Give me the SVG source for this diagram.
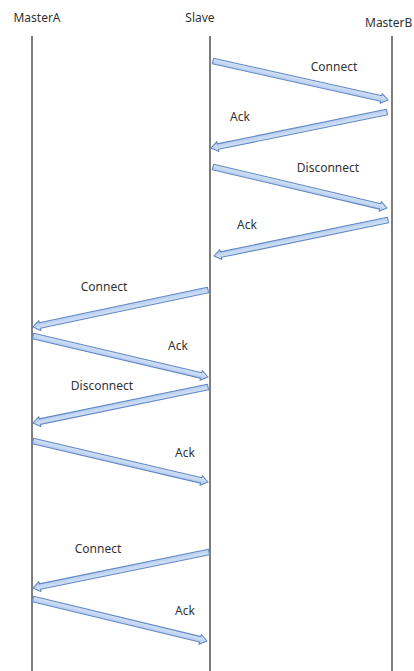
<svg xmlns="http://www.w3.org/2000/svg" width="414" height="671" viewBox="0 0 414 671">
<style>
.life{stroke:#505050;stroke-width:1.5;fill:none}
.msg{fill:url(#blue);stroke:#6389c4;stroke-width:1.1;stroke-linejoin:round}
text{font-family:"Noto Sans","Open Sans","DejaVu Sans",sans-serif;font-size:12px;fill:#333}
.c{text-anchor:middle}
</style>
<defs>
<linearGradient id="blue" x1="0" y1="0" x2="0" y2="1">
<stop offset="0" stop-color="#dfeaf9"/>
<stop offset="1" stop-color="#abc6ee"/>
</linearGradient>
</defs>
<rect width="414" height="671" fill="#fff"/>
<g id="MasterA">
<text class="c" x="37" y="22">MasterA</text>
<line class="life" x1="32" y1="36" x2="32" y2="671"/>
</g>
<g id="Slave">
<text class="c" x="200" y="22">Slave</text>
<line class="life" x1="210" y1="36" x2="210" y2="671"/>
</g>
<g id="MasterB">
<text x="365" y="27">MasterB</text>
<line class="life" x1="392" y1="36" x2="392" y2="671"/>
</g>
<g id="connectors">
<path class="msg" transform="translate(213,61) rotate(12.56)" d="M0,-2.8H172.3V-5L179.3,0L172.3,5V2.8H0Z"/>
<path class="msg" transform="translate(387,112) rotate(168.44)" d="M0,-2.8H172.6V-5L179.6,0L172.6,5V2.8H0Z"/>
<path class="msg" transform="translate(213,167) rotate(13.26)" d="M0,-2.8H171.8V-5L178.8,0L171.8,5V2.8H0Z"/>
<path class="msg" transform="translate(388,220) rotate(168.31)" d="M0,-2.8H170.7V-5L177.7,0L170.7,5V2.8H0Z"/>
<path class="msg" transform="translate(208,290) rotate(168.06)" d="M0,-2.8H171.9V-5L178.9,0L171.9,5V2.8H0Z"/>
<path class="msg" transform="translate(33,336) rotate(13.19)" d="M0,-2.8H172.7V-5L179.7,0L172.7,5V2.8H0Z"/>
<path class="msg" transform="translate(208,387) rotate(168.37)" d="M0,-2.8H171.7V-5L178.7,0L171.7,5V2.8H0Z"/>
<path class="msg" transform="translate(33,441) rotate(13.19)" d="M0,-2.8H172.7V-5L179.7,0L172.7,5V2.8H0Z"/>
<path class="msg" transform="translate(209,552) rotate(168.44)" d="M0,-2.8H172.6V-5L179.6,0L172.6,5V2.8H0Z"/>
<path class="msg" transform="translate(33,599) rotate(13.57)" d="M0,-2.8H172V-5L179,0L172,5V2.8H0Z"/>
<text class="c" x="334" y="71">Connect</text>
<text class="c" x="240" y="121">Ack</text>
<text class="c" x="328" y="172">Disconnect</text>
<text class="c" x="247" y="229">Ack</text>
<text class="c" x="104" y="291">Connect</text>
<text class="c" x="178" y="350">Ack</text>
<text class="c" x="102" y="390">Disconnect</text>
<text class="c" x="185" y="457">Ack</text>
<text class="c" x="98" y="553">Connect</text>
<text class="c" x="185" y="615">Ack</text>
</g>
</svg>
